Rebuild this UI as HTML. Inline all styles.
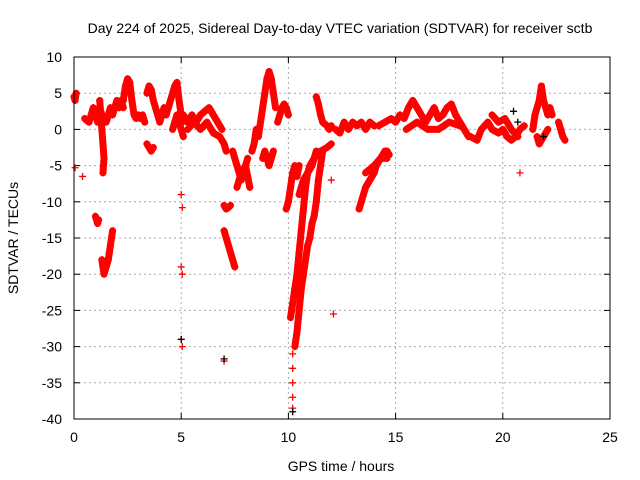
<!DOCTYPE html>
<html><head><meta charset="utf-8"><style>
body{margin:0;background:#fff}
svg{display:block;font-family:"Liberation Sans",sans-serif}
</style></head><body>
<svg id="chart" width="640" height="480">
<text x="340" y="33" text-anchor="middle" font-size="14">Day 224 of 2025, Sidereal Day-to-day VTEC variation (SDTVAR) for receiver sctb</text>
<text x="341" y="471" text-anchor="middle" font-size="14">GPS time / hours</text>
<text transform="translate(18,238) rotate(-90)" text-anchor="middle" font-size="14">SDTVAR / TECUs</text>
<g id="grid"></g><g id="marks"></g>
<rect x="74" y="57" width="536" height="362" fill="none" stroke="#000"/>
</svg>
<script>
const xTicks=[0,5,10,15,20,25];
const yTicks=[10,5,0,-5,-10,-15,-20,-25,-30,-35,-40];
const trackA=[[0,4.5],[0.05,4],[0.1,5]];
const trackB=[[0.5,1.5],[0.7,1],[0.8,2],[0.9,3],[1.0,2],[1.1,1],[1.2,3],[1.3,2],[1.5,1],[1.6,2],[1.7,3],[1.8,2],[1.9,3],[2.0,4],[2.1,3],[2.2,4],[2.3,3]];
const trackC=[[1.2,4],[1.25,2],[1.3,0],[1.35,-2],[1.4,-4],[1.35,-6]];
const trackD=[[1.0,-12],[1.05,-12.5],[1.1,-13],[1.15,-12.5]];
const trackE=[[1.3,-18],[1.35,-19],[1.4,-20],[1.45,-19.5],[1.5,-19],[1.55,-18.5],[1.6,-18],[1.65,-17],[1.7,-16],[1.75,-15],[1.8,-14]];
const trackF=[[2.3,4],[2.4,6],[2.5,7],[2.6,6.5],[2.7,4],[2.8,2],[2.9,1.5],[3.0,2],[3.1,1.5],[3.2,2],[3.3,1]];
const trackG=[[3.4,-2],[3.5,-2.5],[3.6,-3],[3.7,-2.5]];
const trackH=[[3.4,5],[3.5,6],[3.6,5.5],[3.7,4],[3.8,3],[3.9,2],[4.0,1],[4.1,2],[4.2,3],[4.3,2],[4.4,3],[4.5,4],[4.6,5],[4.7,6],[4.8,6.5],[4.9,4],[5.0,2],[5.05,1]];
const trackI=[[4.6,0],[4.7,1],[4.8,2],[4.9,1],[5.0,0],[5.1,-1]];
const trackJ=[[5.1,2],[5.3,1],[5.5,2],[5.7,1],[5.9,2],[6.1,2.5],[6.3,3],[6.5,2],[6.7,1],[6.9,0]];
const trackJ2=[[5.3,0],[5.6,1],[5.9,0],[6.2,1],[6.5,-0.5],[6.8,-1],[7.0,-2],[7.1,-3]];
const trackK=[[7.0,-14],[7.1,-15],[7.2,-16],[7.3,-17],[7.4,-18],[7.5,-19]];
const trackL=[[7.0,-10.5],[7.1,-11],[7.2,-10.8],[7.3,-10.5]];
const trackM=[[7.4,-3],[7.5,-4],[7.6,-5],[7.7,-6],[7.8,-7],[7.9,-6],[8.0,-5],[8.1,-4]];
const trackN=[[7.6,-8],[7.8,-6],[8.0,-5],[8.2,-8]];
const trackO=[[8.3,-3],[8.4,-2],[8.5,0],[8.6,-1],[8.7,1],[8.8,3],[8.9,5],[9.0,7],[9.1,8],[9.2,7],[9.3,5],[9.4,3]];
const trackP=[[8.8,-4],[8.9,-3],[9.0,-4],[9.1,-5],[9.2,-4],[9.3,-3]];
const trackQ=[[9.5,1],[9.6,2],[9.7,3],[9.8,3.5],[9.9,3],[10.0,2]];
const trackR=[[9.9,-11],[10.0,-10],[10.1,-8],[10.2,-6],[10.3,-5],[10.4,-6.5],[10.5,-5]];
const trackS=[[10.1,-26],[10.15,-25],[10.2,-24],[10.3,-22],[10.4,-20],[10.5,-17],[10.6,-14],[10.7,-11],[10.8,-8],[10.9,-6],[11.0,-5],[11.2,-4],[11.5,-3],[11.8,-2.5],[12.0,-2]];
const trackT=[[10.3,-30],[10.4,-28],[10.5,-25],[10.6,-22],[10.7,-20],[10.8,-18],[10.9,-16],[11.0,-15],[11.1,-13],[11.2,-12],[11.3,-10],[11.4,-7],[11.5,-5],[11.6,-3]];
const trackU=[[10.2,-31],[10.2,-33],[10.2,-35],[10.2,-37],[10.2,-38.5]];
const trackV=[[10.5,-9],[10.7,-7],[10.9,-6],[11.1,-5],[11.3,-3]];
const trackW=[[11.3,4.5],[11.4,3.5],[11.5,2],[11.6,1],[11.8,0.5],[11.9,0],[12.0,0.5]];
const trackX=[[12.2,0],[12.4,-0.5],[12.6,1],[12.8,0],[13.0,1],[13.2,0.5],[13.4,1],[13.6,0],[13.8,1],[14.0,0.5]];
const trackY=[[13.3,-11],[13.4,-10],[13.5,-9],[13.6,-8],[13.7,-7.5],[13.8,-7],[13.9,-6.5],[14.0,-6],[14.1,-5],[14.2,-4.5],[14.3,-4],[14.4,-3.5],[14.5,-3],[14.6,-3],[14.7,-3.5]];
const trackY2=[[13.6,-6],[13.8,-5.5],[14.0,-5],[14.3,-4],[14.6,-4]];
const trackZ=[[14.2,0.5],[14.5,1],[14.8,1.5],[15.0,1],[15.2,2],[15.4,1.5],[15.6,3],[15.8,4],[16.0,3],[16.2,2],[16.4,1],[16.6,2],[16.8,3],[17.0,1.5],[17.2,2],[17.4,3],[17.6,3.5],[17.8,2],[18.0,1],[18.2,0],[18.4,-1]];
const trackZ2=[[15.5,0],[16.0,1],[16.5,0],[17.0,0],[17.5,1],[18.0,0.5]];
const trackAA=[[18.5,-1],[18.8,-1.5],[19.0,0],[19.3,1],[19.5,0],[19.8,-0.5],[20.0,0],[20.2,-1],[20.4,-1.5],[20.6,-1],[20.8,0],[21.0,0.5]];
const trackAB=[[19.5,2],[19.8,1],[20.1,1.5],[20.4,0],[20.7,-1]];
const trackAC=[[21.4,0],[21.5,2],[21.6,3],[21.7,4],[21.8,6],[21.9,4],[22.0,3],[22.1,2],[22.2,3],[22.3,2]];
const trackAD=[[21.6,-1],[21.7,-2],[21.9,-1],[22.1,0]];
const trackAE=[[22.6,1],[22.7,0],[22.8,-1],[22.9,-1.5]];
const singles=[[0.05,-5.3],[0.4,-6.5],[5.0,-9],[5.05,-10.8],[5.0,-19],[5.05,-20],[5.0,-29],[5.05,-30],[7.0,-32],[12.0,-7],[12.1,-25.5],[20.8,-6]];
const blackPts=[[10.2,-39],[7.0,-31.7],[20.5,2.5],[5.0,-29],[21.9,-1],[20.7,1]];
const tracks=[trackA,trackB,trackC,trackD,trackE,trackF,trackG,trackH,trackI,trackJ,trackJ2,trackK,trackL,trackM,trackN,trackO,trackP,trackQ,trackR,trackS,trackT,trackV,trackW,trackX,trackY,trackY2,trackZ,trackZ2,trackAA,trackAB,trackAC,trackAD,trackAE];
const X=t=>74+t*(536/25);
const Y=v=>57+(10-v)*(362/50);
const NS='http://www.w3.org/2000/svg';
const grid=document.getElementById('grid'),marks=document.getElementById('marks');
function mk(tag,attrs,parent){const e=document.createElementNS(NS,tag);for(const k in attrs)e.setAttribute(k,attrs[k]);parent.appendChild(e);return e;}
xTicks.forEach(t=>{const x=X(t);
 if(t>0&&t<25){const l=mk('line',{x1:x,x2:x,y1:57,y2:419,stroke:'#aaa','stroke-dasharray':'2,3'},grid);}
 mk('line',{x1:x,x2:x,y1:419,y2:413,stroke:'#000'},grid);mk('line',{x1:x,x2:x,y1:57,y2:63,stroke:'#000'},grid);
 const tx=mk('text',{x:x,y:442,'text-anchor':'middle','font-size':14},grid);tx.textContent=t;
 });
yTicks.forEach(v=>{const y=Y(v);
 if(v<10&&v>-40){const l=mk('line',{x1:74,x2:610,y1:y,y2:y,stroke:'#aaa','stroke-dasharray':'2,3'},grid);}
 mk('line',{x1:74,x2:80,y1:y,y2:y,stroke:'#000'},grid);mk('line',{x1:604,x2:610,y1:y,y2:y,stroke:'#000'},grid);
 const tx=mk('text',{x:62,y:y+5,'text-anchor':'end','font-size':14},grid);tx.textContent=v;
 });
function plus(p,c,name){const x=X(p[0]),y=Y(p[1]);
 const e=mk('path',{d:`M${x-3.5},${y}h7M${x},${y-3.5}v7`,stroke:c,'stroke-width':1.3},marks);
 
 }
tracks.forEach(tr=>{
 const d=tr.map((p,i)=>(i?'L':'M')+X(p[0])+','+Y(p[1])).join('');
 const e=mk('path',{d:d,fill:'none',stroke:'#f00','stroke-width':7,'stroke-linejoin':'round','stroke-linecap':'round'},marks);
 
 
 tr.forEach(p=>plus(p,'#f00','red-point'));});
trackU.forEach(p=>plus(p,'#f00','red-point'));
singles.forEach(p=>plus(p,'#f00','red-point'));
blackPts.forEach(p=>plus(p,'#000','black-point'));
</script>
</body></html>
